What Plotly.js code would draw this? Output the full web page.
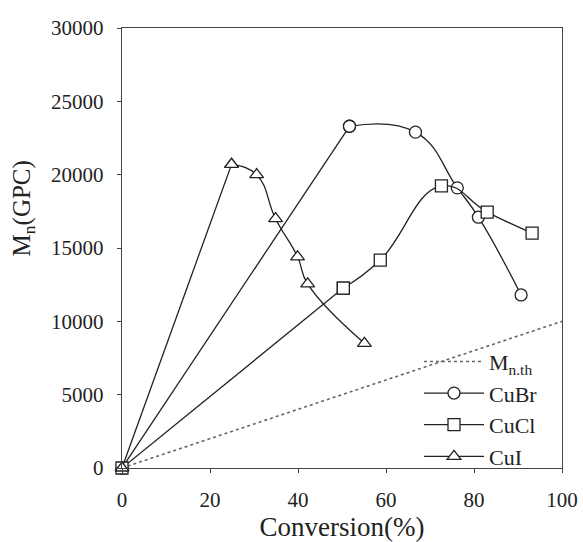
<!DOCTYPE html>
<html>
<head>
<meta charset="utf-8">
<script src="https://cdn.plot.ly/plotly-3.0.1.min.js"></script>
<style>html,body{margin:0;padding:0;background:#fff;}#chart{width:583px;height:542px;}</style>
</head>
<body>
<div id="chart"></div>
<script>
// Theoretical Mn line
const thX = [0, 100];
const thY = [0, 10000];

// CuBr
const cubrX = [0, 51.7, 66.7, 76.2, 81.0, 90.7];
const cubrY = [0, 23300, 22900, 19100, 17100, 11800];

// CuCl
const cuclX = [0, 50.3, 58.7, 72.6, 83.0, 93.2];
const cuclY = [0, 12270, 14180, 19230, 17450, 16020];

// CuI
const cuiX = [0, 24.9, 30.6, 34.9, 39.9, 42.2, 55.1];
const cuiY = [0, 20700, 20000, 17000, 14400, 12550, 8500];

const xTicks = [0, 20, 40, 60, 80, 100];
const yTicks = [0, 5000, 10000, 15000, 20000, 25000, 30000];

const serif = "Liberation Serif, Times New Roman, serif";
const ink = '#222';
const lineStyle = {color: ink, width: 1.3};
function mk(symbol) {
  return {symbol: symbol, size: 12, color: '#ffffff', line: {color: ink, width: 1.3}};
}

const series = [
  {name: 'CuBr', x: cubrX, y: cubrY, symbol: 'circle'},
  {name: 'CuCl', x: cuclX, y: cuclY, symbol: 'square'},
  {name: 'CuI', x: cuiX, y: cuiY, symbol: 'triangle-up'}
];

const traces = [
  {x: thX, y: thY, name: 'M<sub>n.th</sub>', mode: 'lines',
   line: {color: '#666', width: 1.6, dash: 'dot'}}
];
// straight rise from the origin to the first measured point
series.forEach(s => {
  traces.push({x: s.x.slice(0, 2), y: s.y.slice(0, 2), mode: 'lines+markers',
               showlegend: false, line: lineStyle, marker: mk(s.symbol)});
});
// smooth curve through the measured points
series.forEach(s => {
  traces.push({x: s.x.slice(1), y: s.y.slice(1), name: s.name, mode: 'lines+markers',
               line: Object.assign({shape: 'spline', smoothing: 1.3}, lineStyle),
               marker: mk(s.symbol)});
});
traces.forEach(t => { t.cliponaxis = false; });

const layout = {
  width: 583, height: 542,
  margin: {l: 122, r: 21, t: 28, b: 74},
  paper_bgcolor: '#fff', plot_bgcolor: '#fff',
  font: {family: serif, color: ink, size: 21},
  showlegend: true,
  legend: {x: 0.675, xanchor: 'left', y: -0.022, yanchor: 'bottom',
           bgcolor: 'rgba(0,0,0,0)', borderwidth: 0, itemwidth: 60,
           font: {family: serif, size: 22, color: ink}},
  xaxis: {range: [0, 100], tickvals: xTicks, ticktext: xTicks.map(String),
          showgrid: false, zeroline: false, showline: true, mirror: true,
          linecolor: '#444', linewidth: 1.2, ticks: 'outside', ticklen: 4,
          tickcolor: '#444', ticklabelstandoff: 9,
          tickfont: {family: serif, size: 21, color: ink},
          title: {text: 'Conversion(%)', font: {family: serif, size: 27, color: ink}, standoff: 4}},
  yaxis: {range: [0, 30000], tickvals: yTicks, ticktext: yTicks.map(String),
          showgrid: false, zeroline: false, showline: true, mirror: true,
          linecolor: '#444', linewidth: 1.2, ticks: 'outside', ticklen: 4,
          tickcolor: '#444', ticklabelstandoff: 9,
          tickfont: {family: serif, size: 21, color: ink}},
  annotations: [{text: 'M<sub>n</sub>(GPC)', xref: 'paper', yref: 'paper',
                 x: -0.225, y: 0.59, textangle: -90, showarrow: false,
                 xanchor: 'center', yanchor: 'middle',
                 font: {family: serif, size: 25, color: ink}}]
};

Plotly.newPlot('chart', traces, layout, {displayModeBar: false, staticPlot: true});
</script>
</body>
</html>
